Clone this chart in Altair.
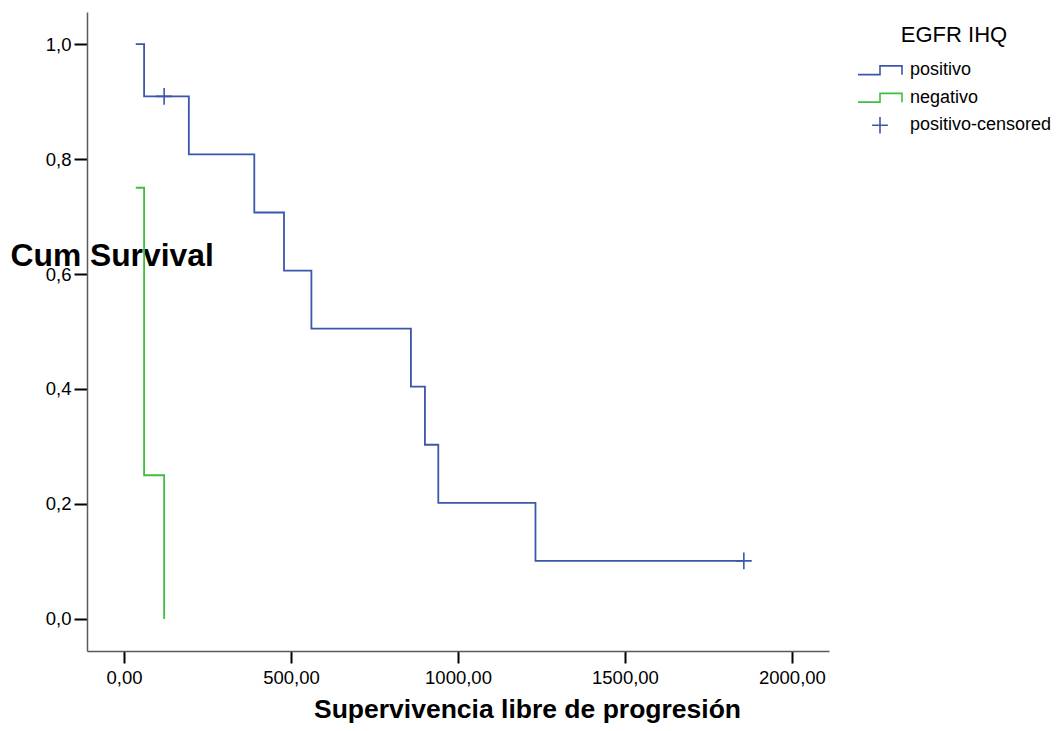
import altair as alt
import pandas as pd

# Kaplan-Meier curves
pos_time = [35, 60, 194, 390, 479, 561, 859, 901, 941, 1232, 1856]
pos_surv = [1.0, 0.909, 0.808, 0.707, 0.606, 0.505, 0.404, 0.303, 0.202, 0.101, 0.101]
neg_time = [35, 60, 120]
neg_surv = [0.75, 0.25, 0.0]
cens_time = [120, 1856]
cens_surv = [0.909, 0.101]

groups = ["positivo", "negativo"]
group_colors = ["#3D56AD", "#3DBF3D"]
legend_items = ["positivo", "negativo", "positivo-censored"]
legend_colors = ["#3D56AD", "#3DBF3D", "#3D56AD"]

x_ticks = [0, 500, 1000, 1500, 2000]
y_ticks = [0.0, 0.2, 0.4, 0.6, 0.8, 1.0]

STEP = "M-1,0.2H0V-0.2H1V0.2"
PLUS = "M-0.36,0H0.36M0,-0.38V0.38"

lines = pd.DataFrame(
    {"time": pos_time + neg_time,
     "surv": pos_surv + neg_surv,
     "group": ["positivo"] * len(pos_time) + ["negativo"] * len(neg_time)}
)
cens = pd.DataFrame({"time": cens_time, "surv": cens_surv,
                     "item": ["positivo-censored"] * len(cens_time)})

FONT = "Liberation Sans"

x_enc = alt.X(
    "time:Q",
    scale=alt.Scale(domain=[-111, 2111], nice=False, zero=False),
    axis=alt.Axis(
        values=x_ticks,
        labelExpr="replace(format(datum.value, '.2f'), '.', ',')",
        title="Supervivencia libre de progresión",
        titleFontSize=26.5, titleFontWeight="bold", titleFont=FONT,
        titleX=440, titleY=66, titleAlign="center", titleBaseline="alphabetic",
        labelFontSize=18.5, labelFont=FONT, labelColor="black", labelPadding=5,
        tickSize=12, tickWidth=2, tickColor="black",
        domainColor="#5a5a5a", domainWidth=1.5, grid=False,
    ),
)
y_enc = alt.Y(
    "surv:Q",
    scale=alt.Scale(domain=[-0.0557, 1.0557], nice=False, zero=False),
    axis=alt.Axis(
        values=y_ticks,
        labelExpr="replace(format(datum.value, '.1f'), '.', ',')",
        title="Cum Survival",
        titleFontSize=31.8, titleFontWeight="bold", titleFont=FONT,
        titleAngle=0, titleX=-77, titleY=253, titleAlign="left",
        titleBaseline="alphabetic",
        labelFontSize=18.5, labelFont=FONT, labelColor="black", labelPadding=3,
        tickSize=13, tickWidth=2, tickColor="black",
        domainColor="#5a5a5a", domainWidth=1.5, grid=False,
    ),
)

line_layer = alt.Chart(lines).mark_line(interpolate="step-after", strokeWidth=1.8).encode(
    x=x_enc,
    y=y_enc,
    color=alt.Color("group:N", scale=alt.Scale(domain=groups, range=group_colors), legend=None),
    detail="group:N",
)

legend = alt.Legend(
    title="EGFR IHQ", orient="none", legendX=770, legendY=13,
    titleFontSize=22, titleFont=FONT, titleFontWeight="normal", titleColor="black",
    titleAnchor="middle", titlePadding=10,
    labelFontSize=18, labelFont=FONT, labelColor="black", labelOffset=7,
    symbolSize=1936, symbolStrokeWidth=1.6, symbolFillColor="transparent",
    clipHeight=26.5, rowPadding=0.5, padding=0,
)

cens_layer = alt.Chart(cens).mark_point(filled=False, strokeWidth=1.6, opacity=1, size=1936).encode(
    x="time:Q",
    y="surv:Q",
    color=alt.Color("item:N", scale=alt.Scale(domain=legend_items, range=legend_colors), legend=legend),
    shape=alt.Shape("item:N", scale=alt.Scale(domain=legend_items, range=[STEP, STEP, PLUS]), legend=legend),
)

chart = (
    alt.layer(line_layer, cens_layer)
    .resolve_scale(color="independent", shape="independent")
    .properties(
        width=742, height=639,
        autosize=alt.AutoSizeParams(type="none"),
        padding={"left": 79, "top": 4, "right": 225, "bottom": 72},
        background="white",
    )
    .configure_view(stroke=None)
)

chart.save("out.html", embed_options={"renderer": "svg", "actions": False})
